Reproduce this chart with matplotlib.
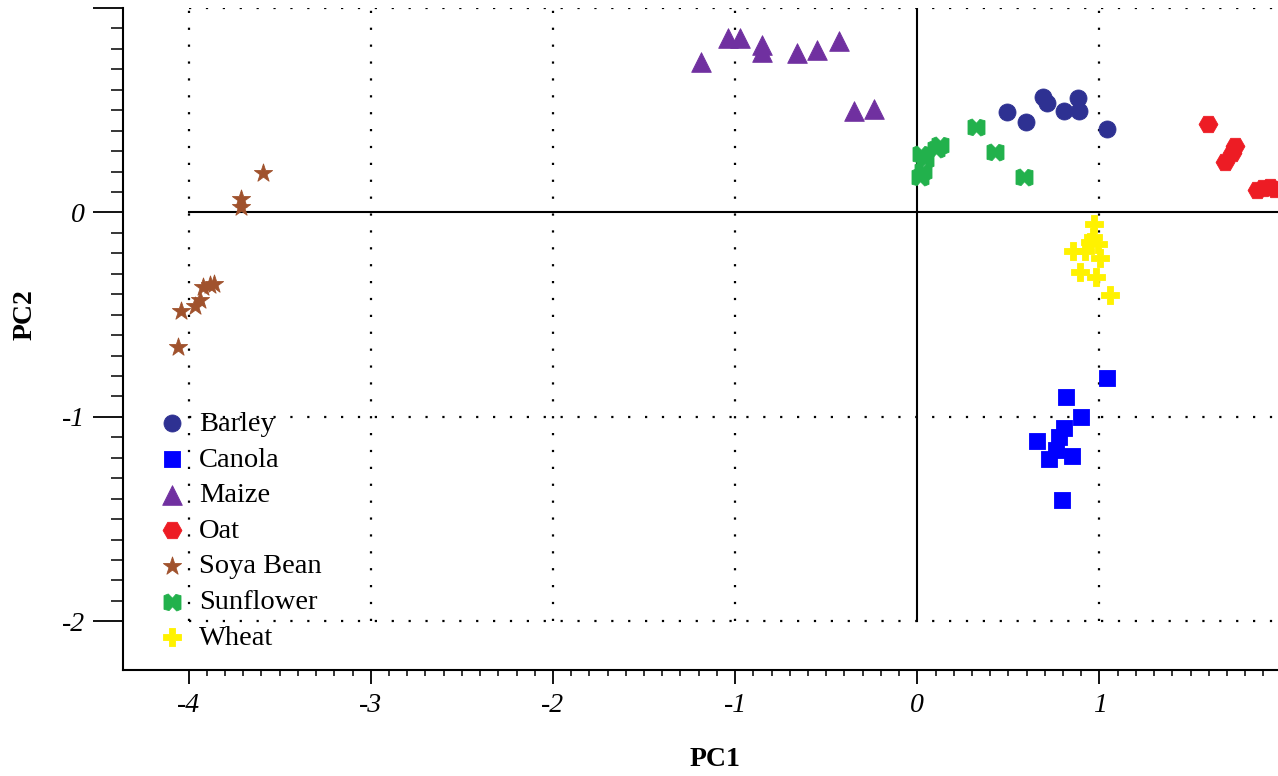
import numpy as np
import matplotlib
matplotlib.use("Agg")
import matplotlib.pyplot as plt
from matplotlib.path import Path
from matplotlib.ticker import FixedLocator

plt.rcParams['font.family'] = ['Liberation Serif', 'DejaVu Serif']

# valeurs (PC1, PC2)
barley_x = [0.493, 0.599, 0.690, 0.712, 0.806, 0.883, 0.886, 1.042]
barley_y = [0.489, 0.440, 0.565, 0.536, 0.496, 0.562, 0.496, 0.407]

canola_x = [1.044, 0.817, 0.897, 0.806, 0.780, 0.659, 0.760, 0.725, 0.851, 0.794]
canola_y = [-0.808, -0.903, -1.000, -1.052, -1.097, -1.119, -1.160, -1.205, -1.192, -1.408]

maize_x = [-1.188, -1.038, -0.974, -0.850, -0.850, -0.658, -0.553, -0.431, -0.349, -0.237]
maize_y = [0.735, 0.851, 0.851, 0.818, 0.785, 0.778, 0.797, 0.839, 0.497, 0.508]

oat_x = [1.596, 1.745, 1.725, 1.688, 1.862, 1.900, 1.935, 1.965]
oat_y = [0.432, 0.325, 0.290, 0.248, 0.109, 0.122, 0.124, 0.115]

soya_x = [-3.591, -3.715, -3.715, -3.860, -3.883, -3.920, -3.938, -3.965, -4.044, -4.057]
soya_y = [0.191, 0.068, 0.027, -0.350, -0.356, -0.364, -0.429, -0.458, -0.481, -0.657]

sunflower_x = [0.325, 0.425, 0.585, 0.123, 0.100, 0.020, 0.045, 0.030, 0.015]
sunflower_y = [0.416, 0.296, 0.171, 0.329, 0.310, 0.285, 0.260, 0.205, 0.175]

wheat_x = [0.969, 0.965, 0.947, 0.992, 0.855, 0.919, 1.002, 0.892, 0.979, 1.057]
wheat_y = [-0.057, -0.120, -0.144, -0.152, -0.188, -0.188, -0.225, -0.290, -0.315, -0.404]

x_ticks = [-4, -3, -2, -1, 0, 1]
y_ticks = [-2, -1, 0, 1]
y_tick_labels = ['-2', '-1', '0', '']

# marqueur "N" arrondi pour le tournesol
n_verts = [(-1, -0.8), (-1, 0.8), (-0.5, 1), (0, 0.5), (0.4, 0.95), (1, 0.8),
           (1, -0.8), (0.5, -1), (0, -0.5), (-0.4, -0.95), (-1, -0.8)]
n_marker = Path(n_verts, closed=True)

series = [
    ("Barley", barley_x, barley_y, 'o', '#2E3192', 150),
    ("Canola", canola_x, canola_y, 's', '#0000FF', 125),
    ("Maize", maize_x, maize_y, '^', '#7030A0', 200),
    ("Oat", oat_x, oat_y, 'H', '#ED1C24', 185),
    ("Soya Bean", soya_x, soya_y, '*', '#A0522D', 190),
    ("Sunflower", sunflower_x, sunflower_y, n_marker, '#22B14C', 150),
    ("Wheat", wheat_x, wheat_y, 'P', '#FFF200', 170),
]

fig = plt.figure(figsize=(12.78, 7.76), dpi=100)
ax = fig.add_axes([123 / 1278, 1 - 670.4 / 776, 1 - 123 / 1278, 662.4 / 776])
ax.set_xlim(-4.36, 1.98)
ax.set_ylim(-2.24, 1.0)

# grille pointillée limitée à [-4, 2] x [-2, 1]
dot = dict(color='black', linewidth=1.6, linestyle=(0, (1, 6.6)), zorder=1)
for gy in [1, -1, -2]:
    ax.plot([-4, 2], [gy, gy], **dot)
for gx in [-4, -3, -2, -1, 1]:
    ax.plot([gx, gx], [-2, 1], **dot)
ax.plot([-4, 2], [0, 0], color='black', linewidth=1.5, zorder=1)
ax.plot([0, 0], [-2, 1], color='black', linewidth=1.5, zorder=1)

for name, xs, ys, mk, col, size in series:
    ax.scatter(xs, ys, marker=mk, s=size, c=col, edgecolors=col, linewidths=0.6,
               label=name, zorder=3)

ax.spines['top'].set_visible(False)
ax.spines['right'].set_visible(False)
ax.spines['left'].set_linewidth(1.5)
ax.spines['bottom'].set_linewidth(1.5)

ax.xaxis.set_major_locator(FixedLocator(x_ticks))
ax.xaxis.set_minor_locator(FixedLocator(np.arange(-40, 20) / 10))
ax.yaxis.set_major_locator(FixedLocator(y_ticks))
ax.yaxis.set_minor_locator(FixedLocator(np.arange(-20, 10) / 10))
ax.set_xticklabels([str(t) for t in x_ticks])
ax.set_yticklabels(y_tick_labels)

ax.tick_params(axis='x', which='major', length=10, width=1.3, pad=6, labelsize=20)
ax.tick_params(axis='x', which='minor', length=4, width=1.1)
ax.tick_params(axis='y', which='major', length=21.5, width=1.3, pad=6, labelsize=20)
ax.tick_params(axis='y', which='minor', length=8.5, width=1.1)
for lab in ax.get_xticklabels() + ax.get_yticklabels():
    lab.set_fontstyle('italic')

fig.text(715 / 1278, 1 - 760 / 776, "PC1", fontsize=20, fontweight='bold', ha='center', va='center')
fig.text(25 / 1278, 1 - 315 / 776, "PC2", fontsize=20, fontweight='bold', ha='center', va='center',
         rotation=90)

leg = ax.legend(loc='upper left', bbox_to_anchor=((156 - 123) / 1155, (670.4 - 411) / 662.4),
                frameon=False, fontsize=20.5, handletextpad=0.4, labelspacing=0.34,
                borderpad=0, handlelength=1.1, borderaxespad=0)

fig.savefig("out.png", dpi=100)
